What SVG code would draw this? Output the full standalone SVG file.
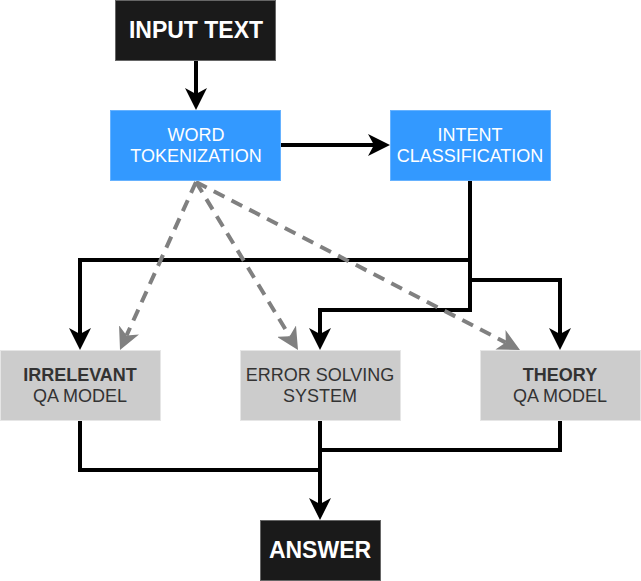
<svg xmlns="http://www.w3.org/2000/svg" width="641" height="581" viewBox="0 0 641 581">
<style>
.dark{fill:#1a1a1a;stroke:#666;stroke-width:1}
.blue{fill:#3399ff;stroke:#66b2ff;stroke-width:1}
.gray{fill:#cccccc;stroke:#e6e6e6;stroke-width:1}
text{font-family:"Liberation Sans",Arial,sans-serif;text-anchor:middle}
.tw{fill:#fff;font-weight:bold;font-size:23px}
.tb{fill:#fff;font-size:18px}
.tg{fill:#333;font-size:18px}
.b{font-weight:bold}
.conn{fill:none;stroke:#000;stroke-width:4}
.dash{fill:none;stroke:#808080;stroke-width:4;stroke-dasharray:12 8}
</style>
<defs>
<marker id="ab" viewBox="0 0 22 22" refX="6" refY="11" markerWidth="22" markerHeight="22" markerUnits="userSpaceOnUse" orient="auto">
<path d="M0,0 L22,11 L0,22 L6,11 Z" fill="#000"/>
</marker>
<marker id="ag" viewBox="0 0 22 22" refX="6" refY="11" markerWidth="22" markerHeight="22" markerUnits="userSpaceOnUse" orient="auto">
<path d="M0,0 L22,11 L0,22 L6,11 Z" fill="#808080"/>
</marker>
</defs>
<g id="connectors">
<path class="conn" d="M196,60 V94" marker-end="url(#ab)"/>
<path class="conn" d="M280,145 H374" marker-end="url(#ab)"/>
<path class="conn" d="M470,180 V260 H80 V334" marker-end="url(#ab)"/>
<path class="conn" d="M470,180 V280 H560 V334" marker-end="url(#ab)"/>
<path class="conn" d="M470,180 V310 H320 V334" marker-end="url(#ab)"/>
<path class="conn" d="M80,420 V470 H320"/>
<path class="conn" d="M560,420 V450 H320"/>
<path class="conn" d="M320,420 V504" marker-end="url(#ab)"/>
<path class="dash" d="M196,182 L126.6,335.4" marker-end="url(#ag)"/>
<path class="dash" d="M196,182 L289.7,336.3" marker-end="url(#ag)"/>
<path class="dash" d="M196,182 L505.8,342.6" marker-end="url(#ag)"/>
</g>
<g id="input-text">
<rect class="dark" x="115.5" y="0.5" width="160" height="60"/>
<text class="tw" x="196" y="38">INPUT TEXT</text>
</g>
<g id="word-tokenization">
<rect class="blue" x="110.5" y="110.5" width="170" height="70"/>
<text class="tb" x="196" y="141">WORD</text>
<text class="tb" x="196" y="162">TOKENIZATION</text>
</g>
<g id="intent-classification">
<rect class="blue" x="390.5" y="110.5" width="160" height="70"/>
<text class="tb" x="470" y="141">INTENT</text>
<text class="tb" x="470" y="162">CLASSIFICATION</text>
</g>
<g id="irrelevant">
<rect class="gray" x="0.5" y="350.5" width="160" height="70"/>
<text class="tg b" x="80" y="381">IRRELEVANT</text>
<text class="tg" x="80" y="402">QA MODEL</text>
</g>
<g id="error-solving">
<rect class="gray" x="240.5" y="350.5" width="160" height="70"/>
<text class="tg" x="320" y="381">ERROR SOLVING</text>
<text class="tg" x="320" y="402">SYSTEM</text>
</g>
<g id="theory">
<rect class="gray" x="480.5" y="350.5" width="160" height="70"/>
<text class="tg b" x="560" y="381">THEORY</text>
<text class="tg" x="560" y="402">QA MODEL</text>
</g>
<g id="answer">
<rect class="dark" x="260.5" y="520.5" width="120" height="60"/>
<text class="tw" x="320" y="558">ANSWER</text>
</g>
</svg>
